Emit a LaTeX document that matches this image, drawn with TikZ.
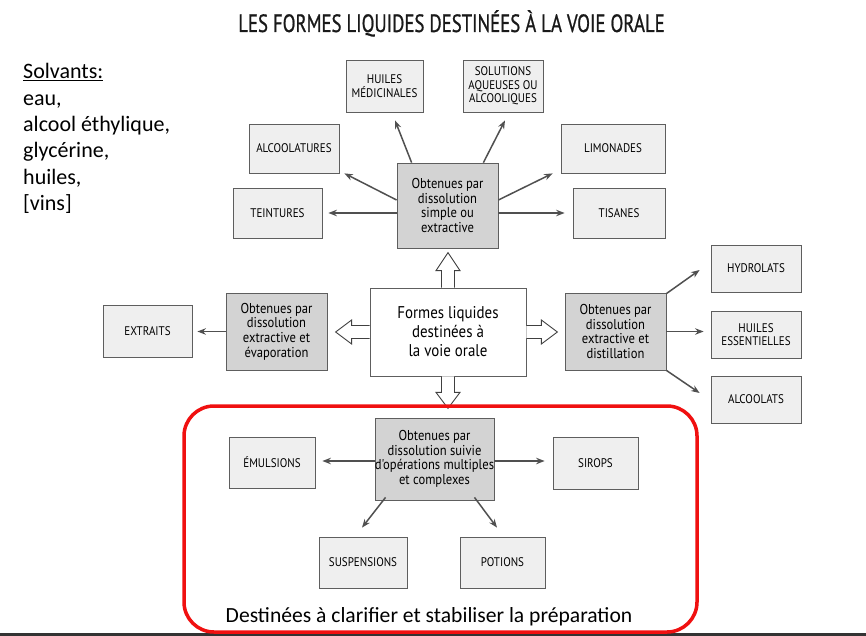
\documentclass[tikz,border=0pt]{standalone}
\usepackage{fontspec}
\setmainfont{Carlito}
\newfontfamily\diag[FakeStretch=0.88]{PT Sans}
\newfontfamily\titlefont[FakeStretch=0.75,FakeBold=0.8]{PT Sans}
\usetikzlibrary{arrows.meta,calc}
\definecolor{leaffill}{HTML}{EFEFEF}
\definecolor{midfill}{HTML}{D3D3D3}
\definecolor{boxline}{HTML}{5E5E5E}
\definecolor{arrline}{HTML}{505050}
\definecolor{redline}{HTML}{F01010}
\begin{document}
\begin{tikzpicture}[x=1pt,y=-1pt,
  box/.style={draw=boxline,line width=0.8pt,align=center,inner sep=0pt,text=black,
    font=\diag\fontsize{12.5}{13.5}\selectfont},
  leaf/.style={box,fill=leaffill},
  mid/.style={box,fill=midfill,font=\diag\fontsize{14.3}{14.6}\selectfont},
  arr/.style={draw=arrline,line width=1.5pt,-{Stealth[length=8.5pt,width=6.5pt]}},
  hollow/.style={draw=black!75,line width=0.9pt,fill=white,line join=miter},
  solv/.style={anchor=base west,inner sep=0pt,font=\fontsize{22}{24}\selectfont}]
\useasboundingbox (0,0) rectangle (866,636);
\fill[white] (0,0) rectangle (866,636);
\fill[black!80] (0,633) rectangle (866,636);

% title
\node[anchor=base,inner sep=0pt,font=\titlefont\fontsize{25}{27}\selectfont,text=black!90] (title) at (451.5,32) {LES FORMES LIQUIDES DESTINÉES À LA VOIE ORALE};

% solvents
\node[solv] (s0) at (23,79) {\underline{Solvants:}};
\node[solv] (s1) at (23,105.5) {eau,};
\node[solv] (s2) at (23,132) {alcool éthylique,};
\node[solv] (s3) at (23,158) {glycérine,};
\node[solv] (s4) at (23,184.5) {huiles,};
\node[solv] (s5) at (23,211) {[vins]};

% top group
\node[leaf,minimum width=77pt,minimum height=52pt] (huiles) at (384.5,86) {HUILES\\MÉDICINALES};
\node[leaf,minimum width=80pt,minimum height=52pt] (solut) at (503,86) {SOLUTIONS\\AQUEUSES OU\\ALCOOLIQUES};
\node[leaf,minimum width=90pt,minimum height=49pt] (alcoolatures) at (294,148.5) {ALCOOLATURES};
\node[leaf,minimum width=104pt,minimum height=49pt] (limonades) at (613,148.5) {LIMONADES};
\node[leaf,minimum width=89pt,minimum height=50pt] (teintures) at (277.5,213) {TEINTURES};
\node[leaf,minimum width=92pt,minimum height=50pt] (tisanes) at (619,213) {TISANES};
\node[mid,minimum width=101pt,minimum height=85pt] (simple) at (447.5,205.5) {Obtenues par\\dissolution\\simple ou\\extractive};

% middle row
\node[leaf,minimum width=89pt,minimum height=52pt] (extraits) at (147.5,331) {EXTRAITS};
\node[mid,minimum width=101pt,minimum height=77pt] (evap) at (276.5,331.5) {Obtenues par\\dissolution\\extractive et\\évaporation};
\node[box,fill=white,minimum width=156pt,minimum height=88pt,font=\diag\fontsize{17}{19}\selectfont] (main) at (448,332) {Formes liquides\\destinées à\\la voie orale};
\node[mid,minimum width=101pt,minimum height=77pt] (distil) at (615.5,331.5) {Obtenues par\\dissolution\\extractive et\\distillation};
\node[leaf,minimum width=90pt,minimum height=47pt] (hydrolats) at (756,268.5) {HYDROLATS};
\node[leaf,minimum width=90pt,minimum height=47pt] (huilesess) at (756,334.5) {HUILES\\ESSENTIELLES};
\node[leaf,minimum width=90pt,minimum height=47pt] (alcoolats) at (756,399.5) {ALCOOLATS};

% bottom group
\node[mid,minimum width=115pt,minimum height=82pt] (multi) at (434.5,459) {Obtenues par\\dissolution suivie\\d'opérations multiples\\et complexes};
\node[leaf,minimum width=86pt,minimum height=51pt] (emulsions) at (272,462.5) {ÉMULSIONS};
\node[leaf,minimum width=85pt,minimum height=52pt] (sirops) at (595.5,463) {SIROPS};
\node[leaf,minimum width=88pt,minimum height=51pt] (suspensions) at (363,562.5) {SUSPENSIONS};
\node[leaf,minimum width=85pt,minimum height=51pt] (potions) at (502.5,562.5) {POTIONS};

% arrows from simple
\draw[arr] ($(simple.north west)+(15,0)$) -- ($(huiles.south)+(10.5,8)$);
\draw[arr] ($(simple.north east)+(-15,0)$) -- ($(solut.south)+(2,8)$);
\draw[arr] ($(simple.west)+(0,-5.5)$) -- ($(alcoolatures.south east)+(5,0)$);
\draw[arr] ($(simple.east)+(0,-5.5)$) -- ($(limonades.south west)+(-8,0)$);
\draw[arr] (simple.west |- teintures.east) -- ($(teintures.east)+(6,0)$);
\draw[arr] (simple.east |- tisanes.west) -- ($(tisanes.west)+(-8,0)$);

% arrows from evap / distil
\draw[arr] (evap.west) -- ($(evap.west -| extraits.east)+(5,0)$);
\draw[arr] ($(distil.north east)+(0,1)$) -- ($(hydrolats.west)+(-11,1.5)$);
\draw[arr] (distil.east) -- ($(distil.east -| huilesess.west)+(-7,0)$);
\draw[arr] (distil.south east) -- ($(alcoolats.west)+(-11,-6.5)$);

% arrows from multi
\draw[arr] ($(multi.west)+(0,2)$) -- ($(emulsions.east)+(7,-1.5)$);
\draw[arr] ($(multi.east)+(0,2)$) -- ($(sirops.west)+(-8,-2)$);
\draw[arr] ($(multi.south west)+(11,-3)$) -- ($(suspensions.north)+(-1,-9)$);
\draw[arr] ($(multi.south east)+(-20,-3)$) -- ($(potions.north)+(-5.5,-9)$);

% hollow arrows from main
\draw[hollow] ($(main.north)+(-6.5,0)$) -- ++(0,-17) -- ++(-5.5,0) -- ++(12,-18) -- ++(12,18) -- ++(-5.5,0) -- ++(0,17);
\draw[hollow] ($(main.south)+(-6.5,0)$) -- ++(0,16) -- ++(-5.5,0) -- ++(12,16) -- ++(12,-16) -- ++(-5.5,0) -- ++(0,-16);
\draw[hollow] ($(main.west)+(0,-6.5)$) -- ++(-18,0) -- ++(0,-5.5) -- ++(-16,12) -- ++(16,12) -- ++(0,-5.5) -- ++(18,0);
\draw[hollow] ($(main.east)+(0,-6.5)$) -- ++(15,0) -- ++(0,-5.5) -- ++(16,12) -- ++(-16,12) -- ++(0,-5.5) -- ++(-15,0);

% red frame
\draw[draw=redline,line width=3.5pt,rounded corners=30pt] (184,406) rectangle (697,632);
\node[anchor=base,inner sep=0pt,font=\fontsize{21.6}{23}\selectfont] (note) at (429,622.5) {Destinées à clarifier et stabiliser la préparation};
\end{tikzpicture}
\end{document}
